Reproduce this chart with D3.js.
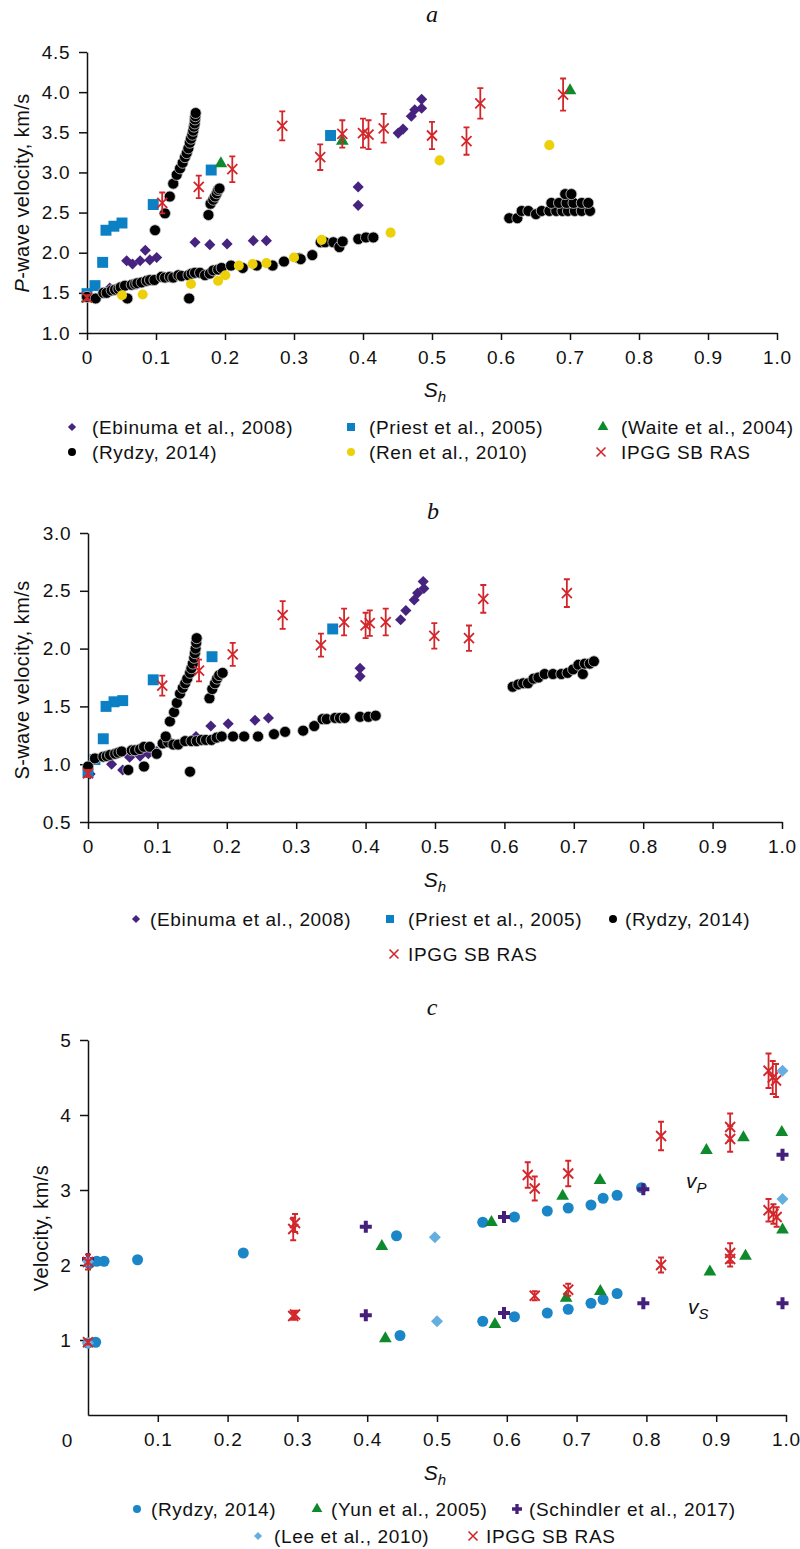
<!DOCTYPE html>
<html>
<head>
<meta charset="utf-8">
<script src="https://cdn.jsdelivr.net/npm/d3@7"></script>
<style>
  body { margin: 0; background: #fff; }
  svg text { font-family: "Liberation Sans", Arial, sans-serif; fill: #111; }
</style>
</head>
<body>
<svg id="chart" width="800" height="1549"></svg>
<script>
// ---- tick labels ----
const sTicks = [0, 0.1, 0.2, 0.3, 0.4, 0.5, 0.6, 0.7, 0.8, 0.9, 1.0];
const vpTicks = [1.0, 1.5, 2.0, 2.5, 3.0, 3.5, 4.0, 4.5];
const vsTicks = [0.5, 1.0, 1.5, 2.0, 2.5, 3.0];
const vcTicks = [1, 2, 3, 4, 5];

// ---- panel a : P-wave velocity [Sh, Vp] ----
const ebinumaA = [[0.033,1.56],[0.0575,1.90],[0.066,1.86],[0.077,1.90],[0.0845,2.03],[0.091,1.91],[0.101,1.94],
  [0.1565,2.13],[0.178,2.10],[0.203,2.11],[0.241,2.15],[0.26,2.15],[0.393,2.82],[0.393,2.59],
  [0.451,3.49],[0.458,3.54],[0.47,3.70],[0.475,3.78],[0.485,3.80],[0.485,3.91]];
const priestA = [[0,1.49],[0.0116,1.59],[0.0227,1.88],[0.0275,2.28],[0.039,2.33],[0.0507,2.37],[0.096,2.60],[0.18,3.03],[0.353,3.46]];
const waiteA = [[0,1.43],[0.194,3.11],[0.37,3.39],[0.70,4.02]];
const renA = [[0.0507,1.47],[0.0807,1.48],[0.1507,1.61],[0.19,1.65],[0.2005,1.72],[0.22,1.84],[0.24,1.86],
  [0.26,1.87],[0.30,1.94],[0.34,2.16],[0.44,2.25],[0.511,3.15],[0.67,3.34]];
const rydzyA = [[0,1.45],[0.0126,1.43],[0.0237,1.50],[0.0285,1.50],[0.0357,1.53],[0.0406,1.54],[0.0454,1.55],
  [0.0488,1.57],[0.0551,1.59],[0.0585,1.43],[0.0647,1.60],[0.0696,1.61],[0.0729,1.62],[0.0792,1.63],
  [0.0865,1.65],[0.0913,1.66],[0.0976,1.66],[0.108,1.70],[0.113,1.69],[0.12,1.70],[0.125,1.69],[0.1324,1.72],
  [0.137,1.71],[0.148,1.43],[0.147,1.72],[0.1517,1.74],[0.1565,1.75],[0.1638,1.75],[0.171,1.72],[0.178,1.74],
  [0.183,1.78],[0.19,1.79],[0.195,1.81],[0.2087,1.84],[0.2257,1.81],[0.246,1.84],[0.269,1.84],[0.2855,1.89],
  [0.3077,1.93],[0.3097,1.92],[0.3265,1.97],[0.3387,2.13],[0.345,2.13],[0.357,2.13],[0.3657,2.07],[0.3705,2.14],
  [0.3932,2.17],[0.4043,2.19],[0.415,2.19]];
const rydzyA1 = [[0.0986,2.28],[0.113,2.49],[0.12,2.70],[0.125,2.86],[0.13,2.97],[0.1348,3.05],[0.1386,3.12],
  [0.142,3.19],[0.1445,3.24],[0.1469,3.30],[0.149,3.37],[0.1507,3.42],[0.1527,3.47],[0.154,3.52],[0.155,3.57],
  [0.156,3.61],[0.1565,3.66],[0.157,3.70],[0.1575,3.74]];
const rydzyA2 = [[0.176,2.47],[0.179,2.61],[0.183,2.66],[0.1855,2.70],[0.188,2.74],[0.19,2.78],[0.192,2.80]];
const rydzyA3 = [[0.612,2.43],[0.6237,2.43],[0.63,2.52],[0.6396,2.52],[0.6507,2.48],[0.659,2.52],[0.67,2.52],
  [0.68,2.52],[0.689,2.52],[0.697,2.52],[0.707,2.52],[0.717,2.52],[0.729,2.52],[0.673,2.62],[0.684,2.62],
  [0.695,2.62],[0.705,2.62],[0.717,2.62],[0.7265,2.62],[0.693,2.73],[0.702,2.73]];
// [Sh, V, error]
const ipggA = [[0,1.44,0.03],[0.109,2.62,0.13],[0.162,2.82,0.14],[0.2106,3.04,0.16],[0.283,3.58,0.18],
  [0.338,3.19,0.16],[0.37,3.48,0.17],[0.40,3.49,0.18],[0.408,3.47,0.18],[0.43,3.55,0.18],[0.50,3.46,0.17],
  [0.55,3.39,0.17],[0.57,3.86,0.19],[0.69,3.97,0.20]];

// ---- panel b : S-wave velocity ----
const ebinumaB = [[0.003,0.915],[0.034,1.0],[0.05,0.95],[0.06,1.06],[0.075,1.07],[0.087,1.09],[0.099,1.11],
  [0.1556,1.24],[0.177,1.33],[0.202,1.35],[0.2406,1.38],[0.26,1.40],[0.392,1.83],[0.392,1.76],[0.4505,2.25],
  [0.458,2.33],[0.47,2.42],[0.475,2.48],[0.484,2.52],[0.483,2.58]];
const priestB = [[0,0.93],[0.01,1.04],[0.022,1.22],[0.026,1.50],[0.0375,1.54],[0.05,1.55],[0.094,1.73],[0.1787,1.93],[0.3526,2.17]];
const rydzyB = [[0,0.98],[0.01,1.05],[0.022,1.065],[0.027,1.07],[0.0317,1.08],[0.039,1.09],[0.0437,1.10],
  [0.0485,1.11],[0.058,0.95],[0.063,1.12],[0.0677,1.12],[0.075,1.13],[0.0807,1.15],[0.0807,0.98],[0.089,1.15],
  [0.099,1.09],[0.1076,1.18],[0.1157,1.19],[0.123,1.17],[0.13,1.17],[0.14,1.20],[0.147,0.935],[0.149,1.20],
  [0.1566,1.20],[0.1638,1.21],[0.17,1.21],[0.178,1.21],[0.1854,1.23],[0.1926,1.24],[0.209,1.24],[0.225,1.24],
  [0.245,1.24],[0.268,1.26],[0.284,1.28],[0.31,1.29],[0.326,1.33],[0.338,1.39],[0.344,1.39],[0.356,1.40],
  [0.363,1.40],[0.37,1.40],[0.392,1.41],[0.404,1.41],[0.4145,1.42]];
const rydzyB1 = [[0.112,1.24],[0.118,1.37],[0.124,1.45],[0.128,1.53],[0.1326,1.61],[0.1365,1.66],[0.14,1.70],
  [0.143,1.74],[0.147,1.79],[0.149,1.83],[0.151,1.87],[0.153,1.92],[0.154,1.96],[0.155,2.00],[0.156,2.05],[0.1566,2.09]];
const rydzyB2 = [[0.175,1.57],[0.179,1.65],[0.183,1.70],[0.186,1.74],[0.189,1.77],[0.194,1.79]];
const rydzyB3 = [[0.612,1.67],[0.62,1.69],[0.627,1.70],[0.634,1.70],[0.642,1.74],[0.649,1.75],[0.658,1.78],
  [0.67,1.78],[0.682,1.78],[0.691,1.79],[0.699,1.82],[0.7066,1.86],[0.713,1.78],[0.716,1.87],[0.723,1.87],[0.729,1.89]];
const ipggB = [[0,0.92,0.03],[0.107,1.68,0.087],[0.16,1.81,0.094],[0.2085,1.95,0.10],[0.2805,2.29,0.12],
  [0.3357,2.03,0.10],[0.369,2.23,0.115],[0.40,2.20,0.11],[0.406,2.22,0.11],[0.429,2.23,0.115],[0.499,2.11,0.11],
  [0.549,2.09,0.11],[0.5696,2.43,0.12],[0.69,2.48,0.12]];

// ---- panel c : vP and vS ----
const rydzyCP = [[0.002,2.02],[0.0125,2.05],[0.023,2.05],[0.071,2.07],[0.2225,2.16],[0.442,2.39],[0.5655,2.57],
  [0.611,2.64],[0.658,2.72],[0.688,2.76],[0.7206,2.80],[0.738,2.89],[0.758,2.93],[0.793,3.03]];
const rydzyCS = [[0,0.96],[0.011,0.97],[0.447,1.06],[0.5655,1.25],[0.611,1.31],[0.658,1.36],[0.688,1.41],
  [0.7206,1.49],[0.738,1.54],[0.758,1.62]];
const yunCP = [[0.421,2.25],[0.578,2.57],[0.68,2.92],[0.7335,3.13],[0.886,3.53],[0.939,3.70],[0.994,3.77]];
const yunCS = [[0.426,1.02],[0.583,1.21],[0.685,1.56],[0.734,1.65],[0.891,1.91],[0.942,2.12],[0.995,2.47]];
const schindlerCP = [[0,2.08],[0.398,2.51],[0.596,2.64],[0.7956,3.01],[0.995,3.47]];
const schindlerCS = [[0.398,1.33],[0.596,1.36],[0.7956,1.49],[0.995,1.49]];
const leeCP = [[0,2.05],[0.497,2.37],[0.995,4.59]];
const leeCS = [[0,0.96],[0.5,1.25],[0.995,2.88]];
const ipggCP = [[0,2.04,0.10],[0.294,2.48,0.15],[0.2966,2.56,0.12],[0.63,3.20,0.17],[0.64,3.02,0.16],
  [0.688,3.22,0.17],[0.821,3.72,0.19],[0.92,3.84,0.18],[0.92,3.68,0.17],[0.975,4.59,0.23],[0.981,4.50,0.22],[0.9857,4.46,0.22]];
const ipggCS = [[0,0.97,0.03],[0.294,1.32,0.05],[0.2966,1.34,0.05],[0.64,1.59,0.06],[0.688,1.67,0.08],
  [0.821,2.00,0.10],[0.92,2.16,0.13],[0.92,2.08,0.10],[0.975,2.73,0.15],[0.982,2.68,0.13],[0.9866,2.64,0.13]];

const col = {
  purple: '#46237f', blue: '#0b80c4', green: '#0e8a2c', black: '#000', yellow: '#ecd10a',
  red: '#d3262b', cblue: '#1a86c8', lblue: '#64afe0', plus: '#45207b'
};

const svg = d3.select('#chart');

function shapeOf(kind) {
  if (kind === 'diamond' || kind === 'square') return d3.symbolSquare;
  if (kind === 'triangle') return d3.symbolTriangle;
  if (kind === 'plus') return d3.symbolCross;
  return d3.symbolCircle;
}

function drawMarks(g, data, x, y, kind, color, size, stroke) {
  g.append('g')
    .selectAll('path')
    .data(data)
    .join('path')
    .attr('transform', function (d) {
      return 'translate(' + x(d[0]) + ',' + y(d[1]) + ')' + (kind === 'diamond' ? ' rotate(45)' : '');
    })
    .attr('d', d3.symbol(shapeOf(kind), size))
    .attr('fill', color)
    .attr('stroke', stroke || 'none')
    .attr('stroke-width', stroke ? 0.8 : 0);
}

function drawIPGG(g, data, x, y, arm) {
  const pt = g.append('g')
    .selectAll('g')
    .data(data)
    .join('g')
    .attr('transform', function (d) { return 'translate(' + x(d[0]) + ',0)'; })
    .attr('stroke', col.red)
    .attr('stroke-width', 1.8)
    .attr('fill', 'none');
  pt.append('path').attr('d', function (d) {
    const y0 = y(d[1] - d[2]), y1 = y(d[1] + d[2]);
    return 'M0,' + y0 + 'V' + y1 + 'M-3,' + y0 + 'H3M-3,' + y1 + 'H3';
  });
  pt.append('path').attr('d', function (d) {
    const c = y(d[1]);
    return 'M' + -arm + ',' + (c - arm) + 'L' + arm + ',' + (c + arm) +
      'M' + -arm + ',' + (c + arm) + 'L' + arm + ',' + (c - arm);
  });
}

function drawAxes(x, y, yTicks, yFmt, xTicks, xFmt) {
  const [y0] = y.range();
  const [x0] = x.range();
  const ax = svg.append('g')
    .attr('transform', 'translate(0,' + y0 + ')')
    .call(d3.axisBottom(x).tickValues(xTicks).tickFormat(xFmt).tickSize(7).tickSizeOuter(0).tickPadding(11));
  const ay = svg.append('g')
    .attr('transform', 'translate(' + x0 + ',0)')
    .call(d3.axisLeft(y).tickValues(yTicks).tickFormat(yFmt).tickSize(8).tickSizeOuter(0).tickPadding(8));
  [ax, ay].forEach(function (a) {
    a.selectAll('path, line').attr('stroke', '#111').attr('stroke-width', 1.5);
    a.selectAll('text').attr('font-size', 19).attr('fill', '#111')
      .style('letter-spacing', '0.8px')
      .style('font-family', '"Liberation Sans", Arial, sans-serif');
  });
  ay.selectAll('text').attr('x', -16.5);
  return ax;
}

function title(txt, cx, by) {
  svg.append('text').attr('x', cx).attr('y', by).attr('text-anchor', 'middle')
    .style('font-family', '"Liberation Serif", "Times New Roman", serif')
    .style('font-style', 'italic').attr('font-size', 24).text(txt);
}

function xLabel(cx, by) {
  const t = svg.append('text').attr('x', cx).attr('y', by).attr('text-anchor', 'middle')
    .attr('font-size', 21).style('font-style', 'italic');
  t.append('tspan').text('S');
  t.append('tspan').attr('font-size', 15).attr('dy', 5).text('h');
}

function yLabel(bx, cy, parts) {
  const t = svg.append('text').attr('transform', 'translate(' + bx + ',' + cy + ') rotate(-90)')
    .attr('text-anchor', 'middle').attr('font-size', 20).style('letter-spacing', '0.4px');
  parts.forEach(function (p) {
    t.append('tspan').style('font-style', p[1] ? 'italic' : 'normal').text(p[0]);
  });
}

function legendItem(mx, tx, cy, kind, color, label) {
  if (kind === 'x') {
    svg.append('path')
      .attr('d', 'M' + (mx - 4.5) + ',' + (cy - 4.5) + 'L' + (mx + 4.5) + ',' + (cy + 4.5) +
        'M' + (mx - 4.5) + ',' + (cy + 4.5) + 'L' + (mx + 4.5) + ',' + (cy - 4.5))
      .attr('stroke', col.red).attr('stroke-width', 1.6);
  } else {
    const sizes = { diamond: 34, square: 64, triangle: 50, circle: 50, plus: 55 };
    svg.append('path')
      .attr('transform', 'translate(' + mx + ',' + cy + ')' + (kind === 'diamond' ? ' rotate(45)' : ''))
      .attr('d', d3.symbol(shapeOf(kind), sizes[kind]))
      .attr('fill', color);
  }
  svg.append('text').attr('x', tx).attr('y', cy + 7).attr('font-size', 19)
    .style('letter-spacing', '0.65px').text(label);
}

const fmt1 = function (d) { return d === 0 ? '0' : d3.format('.1f')(d); };

// ================= panel a =================
{
  const x = d3.scaleLinear().domain([0, 1]).range([87, 777]);
  const y = d3.scaleLinear().domain([1, 4.5]).range([333, 52]);
  drawAxes(x, y, vpTicks, d3.format('.1f'), sTicks, fmt1);
  const g = svg.append('g');
  drawMarks(g, ebinumaA, x, y, 'diamond', col.purple, 62);
  drawMarks(g, priestA, x, y, 'square', col.blue, 120);
  drawMarks(g, waiteA, x, y, 'triangle', col.green, 70);
  drawMarks(g, rydzyA.concat(rydzyA1, rydzyA2, rydzyA3), x, y, 'circle', col.black, 95, '#c8c8c8');
  drawMarks(g, renA, x, y, 'circle', col.yellow, 80);
  drawIPGG(g, ipggA, x, y, 5);

  title('a', 432, 22);
  xLabel(435, 397);
  yLabel(29, 193, [['P', true], ['-wave velocity, km/s', false]]);

  legendItem(72, 92, 427, 'diamond', col.purple, '(Ebinuma et al., 2008)');
  legendItem(351, 369, 427, 'square', col.blue, '(Priest et al., 2005)');
  legendItem(603, 621, 427, 'triangle', col.green, '(Waite et al., 2004)');
  legendItem(72, 92, 452, 'circle', col.black, '(Rydzy, 2014)');
  legendItem(351, 369, 452, 'circle', col.yellow, '(Ren et al., 2010)');
  legendItem(601, 621, 452, 'x', col.red, 'IPGG SB RAS');
}

// ================= panel b =================
{
  const x = d3.scaleLinear().domain([0, 1]).range([88, 782]);
  const y = d3.scaleLinear().domain([0.5, 3.0]).range([822, 533]);
  drawAxes(x, y, vsTicks, d3.format('.1f'), sTicks, fmt1);
  const g = svg.append('g');
  drawMarks(g, ebinumaB, x, y, 'diamond', col.purple, 62);
  drawMarks(g, priestB, x, y, 'square', col.blue, 120);
  drawMarks(g, rydzyB.concat(rydzyB1, rydzyB2, rydzyB3), x, y, 'circle', col.black, 95, '#c8c8c8');
  drawIPGG(g, ipggB, x, y, 5);

  title('b', 433, 519);
  xLabel(435, 887);
  yLabel(29, 680, [['S-wave velocity, km/s', false]]);

  legendItem(136, 150, 919, 'diamond', col.purple, '(Ebinuma et al., 2008)');
  legendItem(390, 408, 919, 'square', col.blue, '(Priest et al., 2005)');
  legendItem(613, 625, 919, 'circle', col.black, '(Rydzy, 2014)');
  legendItem(394, 408, 954, 'x', col.red, 'IPGG SB RAS');
}

// ================= panel c =================
{
  const x = d3.scaleLinear().domain([0, 1]).range([88, 786]);
  const y = d3.scaleLinear().domain([0, 5]).range([1415, 1040]);
  drawAxes(x, y, vcTicks, d3.format('d'), sTicks.slice(1), d3.format('.1f'));
  svg.append('text').attr('x', 67).attr('y', 1447).attr('text-anchor', 'middle')
    .attr('font-size', 19).text('0');
  const g = svg.append('g');
  drawMarks(g, rydzyCP.concat(rydzyCS), x, y, 'circle', col.cblue, 95);
  drawMarks(g, yunCP.concat(yunCS), x, y, 'triangle', col.green, 70);
  drawMarks(g, schindlerCP.concat(schindlerCS), x, y, 'plus', col.plus, 80);
  drawMarks(g, leeCP.concat(leeCS), x, y, 'diamond', col.lblue, 72);
  drawIPGG(g, ipggCP.concat(ipggCS), x, y, 5);

  title('c', 432, 1015);
  xLabel(435, 1480);
  yLabel(48, 1228, [['Velocity, km/s', false]]);

  const v = svg.append('g').attr('font-size', 21).style('font-style', 'italic');
  const vp = v.append('text').attr('x', 686).attr('y', 1188);
  vp.append('tspan').text('v');
  vp.append('tspan').attr('font-size', 15).attr('dy', 5).text('P');
  const vs = v.append('text').attr('x', 688).attr('y', 1314);
  vs.append('tspan').text('v');
  vs.append('tspan').attr('font-size', 15).attr('dy', 5).text('S');

  legendItem(137, 151, 1509, 'circle', col.cblue, '(Rydzy, 2014)');
  legendItem(317, 331, 1509, 'triangle', col.green, '(Yun et al., 2005)');
  legendItem(517, 529, 1509, 'plus', col.plus, '(Schindler et al., 2017)');
  legendItem(258, 274, 1536, 'diamond', col.lblue, '(Lee et al., 2010)');
  legendItem(473, 486, 1536, 'x', col.red, 'IPGG SB RAS');
}
</script>
</body>
</html>
